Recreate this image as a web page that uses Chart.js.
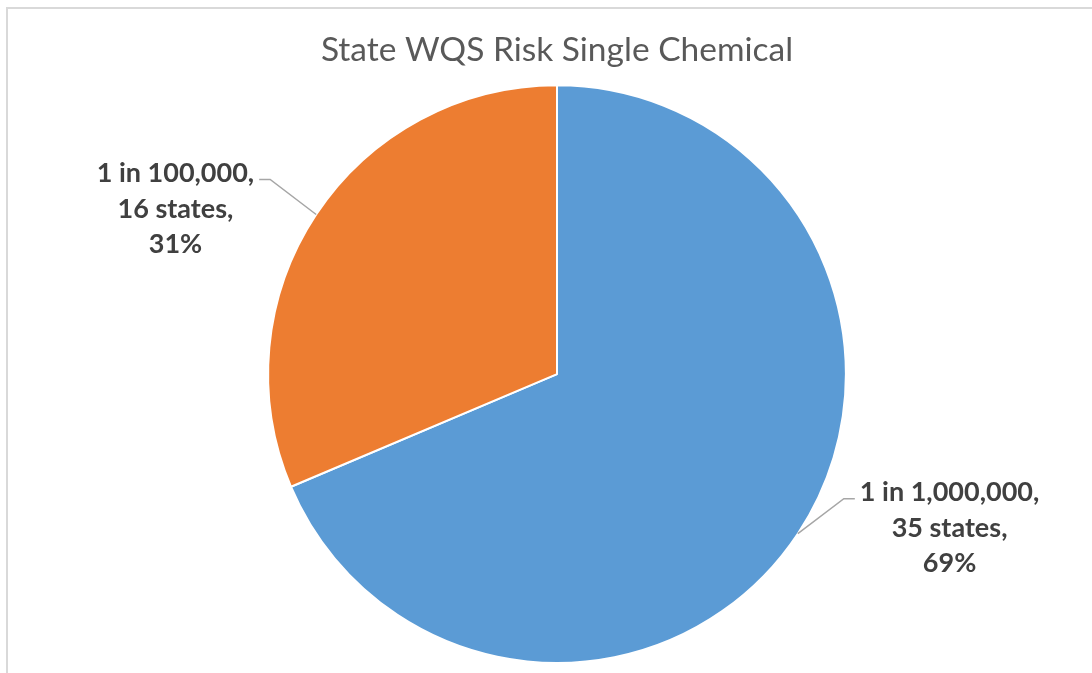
<!DOCTYPE html>
<html>
<head>
<meta charset="utf-8">
<script src="https://cdn.jsdelivr.net/npm/chart.js@4"></script>
<style>
  html, body { margin: 0; padding: 0; background: #fff; }
  #wrap { position: relative; width: 1092px; height: 673px; }
  #frame { position: absolute; left: 6px; top: 7px; right: -4px; bottom: -4px;
           border-top: 2px solid #d9d9d9; border-left: 2px solid #d9d9d9; }
  canvas { position: absolute; left: 0; top: 0; }
</style>
</head>
<body>
<div id="wrap">
  <div id="frame"></div>
  <canvas id="pie" width="1092" height="673"></canvas>
</div>
<script>
// chart data
const categories = ['1 in 1,000,000', '1 in 100,000'];
const stateCounts = [35, 16];
const percentLabels = ['69%', '31%'];
const sliceColors = ['#5B9BD5', '#ED7D31'];

/**
 * Outside labels with bent leader lines, Excel style.
 */
const leaderLabels = {
    id: 'leaderLabels',
    afterDatasetsDraw(chart) {
        const ctx = chart.ctx;
        const arcs = chart.getDatasetMeta(0).data;
        ctx.save();
        ctx.font = 'bold 27px Lato, "Open Sans", sans-serif';
        ctx.fillStyle = '#404040';
        ctx.textAlign = 'center';
        ctx.textBaseline = 'middle';

        arcs.forEach((arc, i) => {
            const mid = (arc.startAngle + arc.endAngle) / 2;
            const right = Math.cos(mid) >= 0;
            const dir = right ? 1 : -1;

            // point on the edge of the slice
            const ex = arc.x + Math.cos(mid) * arc.outerRadius;
            const ey = arc.y + Math.sin(mid) * arc.outerRadius;
            const bx = ex + dir * 46;
            const by = ey - 35;
            const tx = bx + dir * 11;

            ctx.strokeStyle = '#a6a6a6';
            ctx.lineWidth = 1.5;
            ctx.beginPath();
            ctx.moveTo(ex, ey);
            ctx.lineTo(bx, by);
            ctx.lineTo(tx, by);
            ctx.stroke();

            const lines = [categories[i] + ',', stateCounts[i] + ' states,', percentLabels[i]];
            const w = Math.max(...lines.map(l => ctx.measureText(l).width));
            const cx = tx + dir * (5 + w / 2);
            lines.forEach((l, k) => {
                ctx.fillText(l, cx, by - 6 + k * 35.5);
            });
        });
        ctx.restore();
    }
};

new Chart(document.getElementById('pie'), {
    type: 'pie',
    data: {
        labels: categories,
        datasets: [{
            data: stateCounts,
            backgroundColor: sliceColors,
            borderColor: '#ffffff',
            borderWidth: 2
        }]
    },
    options: {
        responsive: false,
        animation: false,
        layout: {
            padding: { left: 22, right: 0, top: 0, bottom: 9 }
        },
        plugins: {
            legend: { display: false },
            tooltip: { enabled: false },
            title: {
                display: true,
                text: 'State WQS Risk Single Chemical',
                color: '#595959',
                font: { family: 'Lato, "Open Sans", sans-serif', size: 33.5, weight: 'normal' },
                padding: { top: 30, bottom: 14 }
            }
        }
    },
    plugins: [leaderLabels]
});
</script>
</body>
</html>
